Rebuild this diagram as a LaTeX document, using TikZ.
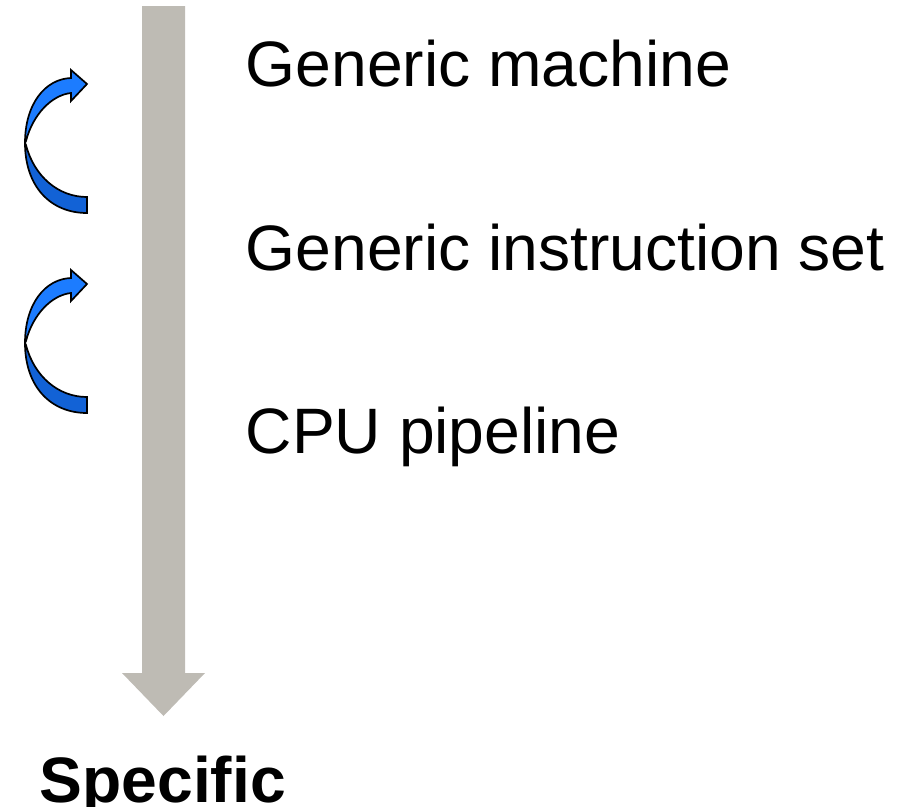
\documentclass[tikz,border=0pt]{standalone}
\usepackage{fontspec}
\setmainfont{Liberation Sans}
\definecolor{shaftgray}{RGB}{190,187,180}
\definecolor{bluefront}{RGB}{28,124,255}
\definecolor{blueback}{RGB}{18,98,214}
\tikzset{
  lbl/.style={anchor=base west, inner sep=0pt, font=\fontsize{64.2}{77}\selectfont},
  bandfront/.style={fill=bluefront, draw=black, line width=1.7pt, line join=miter},
  bandback/.style={fill=blueback, draw=black, line width=1.7pt, line join=miter},
}
\newcommand{\curvedarrow}[1]{%
  % #1 = vertical offset in pixels (downwards)
  \begin{scope}[shift={(0,#1)}]
  \draw[bandback] (25,143) .. controls (25,186) and (50,213) .. (87,213)
     -- (87,197) .. controls (58,197) and (34,176) .. (26,145) -- cycle;
  \draw[bandfront] (25,143) .. controls (25,104) and (45,79) .. (71,78)
     -- (71,70) -- (87,84) -- (71,101) -- (71,93)
     .. controls (52,95) and (33,114) .. (26,141) -- cycle;
  \end{scope}
}
\begin{document}
\begin{tikzpicture}[x=1pt,y=-1pt]
\useasboundingbox (0,0) rectangle (915,806);
% big grey arrow
\fill[shaftgray] (142,6) -- (185,6) -- (185,673) -- (205,673) -- (163.5,716)
   -- (122,673) -- (142,673) -- cycle;
% curved arrows
\curvedarrow{0}
\curvedarrow{200}
% labels
\node[lbl] (gm) at (245.5,86) {Generic machine};
\node[lbl] (gis) at (245.5,270) {Generic instruction set};
\node[lbl] (cpu) at (245.5,453) {CPU pipeline};
\node[lbl, font=\fontsize{64.2}{77}\selectfont\bfseries] (spec) at (39.5,802) {Specific};
\end{tikzpicture}
\end{document}
